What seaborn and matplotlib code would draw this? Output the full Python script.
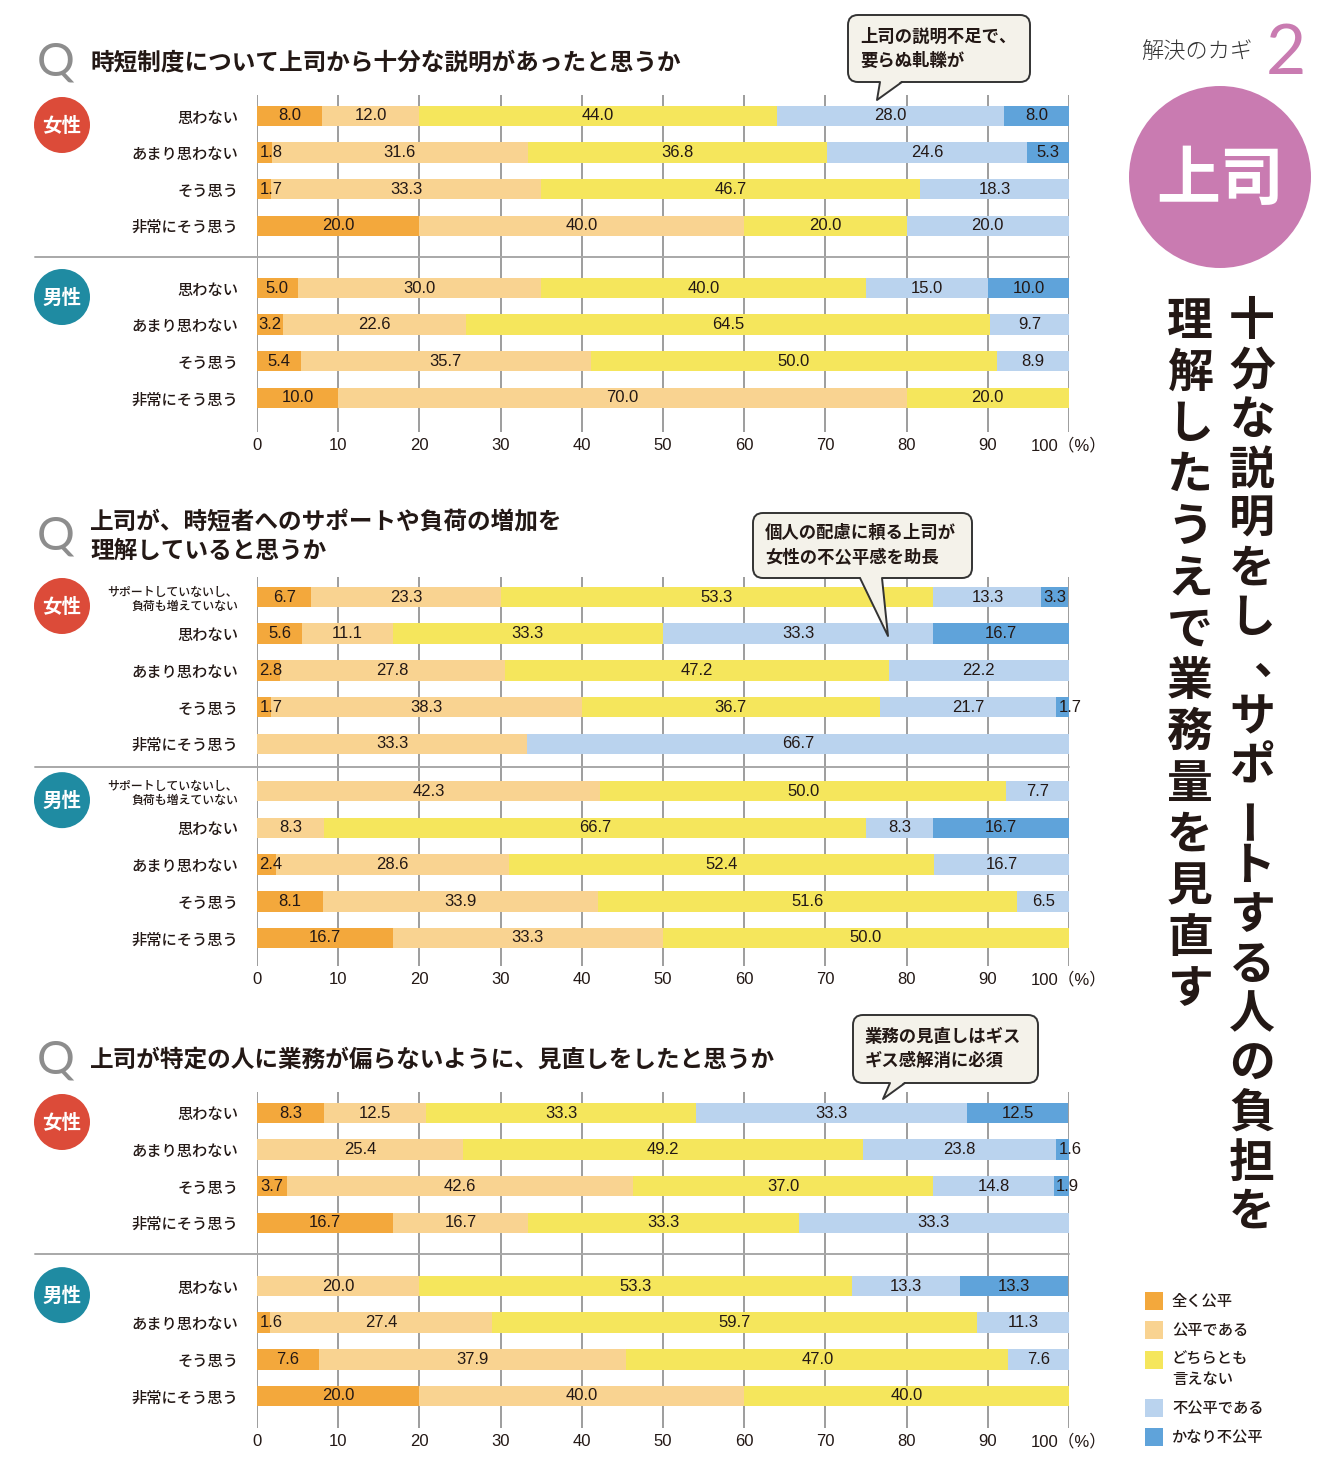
import numpy as np
import pandas as pd
import matplotlib.pyplot as plt
import seaborn as sns
from matplotlib.patches import Circle, FancyBboxPatch, Polygon, Rectangle

W, H = 1340, 1482

# answer categories and colours
answers = ["全く公平", "公平である", "どちらとも言えない", "不公平である", "かなり不公平"]
legend_labels = ["全く公平", "公平である", "どちらとも\n言えない", "不公平である", "かなり不公平"]
colors = ["#F3A83C", "#F9D391", "#F5E65C", "#BAD3EE", "#5FA3DA"]

rows4 = ["思わない", "あまり思わない", "そう思う", "非常にそう思う"]
rows5 = ["サポートしていないし、\n負荷も増えていない"] + rows4

# Q1 時短制度について上司から十分な説明があったと思うか
q1_title = "時短制度について上司から十分な説明があったと思うか"
q1_women = [[8.0, 12.0, 44.0, 28.0, 8.0],
            [1.8, 31.6, 36.8, 24.6, 5.3],
            [1.7, 33.3, 46.7, 18.3, 0],
            [20.0, 40.0, 20.0, 20.0, 0]]
q1_men = [[5.0, 30.0, 40.0, 15.0, 10.0],
          [3.2, 22.6, 64.5, 9.7, 0],
          [5.4, 35.7, 50.0, 8.9, 0],
          [10.0, 70.0, 20.0, 0, 0]]

# Q2 上司が、時短者へのサポートや負荷の増加を理解していると思うか
q2_title = "上司が、時短者へのサポートや負荷の増加を\n理解していると思うか"
q2_women = [[6.7, 23.3, 53.3, 13.3, 3.3],
            [5.6, 11.1, 33.3, 33.3, 16.7],
            [2.8, 27.8, 47.2, 22.2, 0],
            [1.7, 38.3, 36.7, 21.7, 1.7],
            [0, 33.3, 0, 66.7, 0]]
q2_men = [[0, 42.3, 50.0, 7.7, 0],
          [0, 8.3, 66.7, 8.3, 16.7],
          [2.4, 28.6, 52.4, 16.7, 0],
          [8.1, 33.9, 51.6, 6.5, 0],
          [16.7, 33.3, 50.0, 0, 0]]

# Q3 上司が特定の人に業務が偏らないように、見直しをしたと思うか
q3_title = "上司が特定の人に業務が偏らないように、見直しをしたと思うか"
q3_women = [[8.3, 12.5, 33.3, 33.3, 12.5],
            [0, 25.4, 49.2, 23.8, 1.6],
            [3.7, 42.6, 37.0, 14.8, 1.9],
            [16.7, 16.7, 33.3, 33.3, 0]]
q3_men = [[0, 20.0, 53.3, 13.3, 13.3],
          [1.6, 27.4, 59.7, 11.3, 0],
          [7.6, 37.9, 47.0, 7.6, 0],
          [20.0, 40.0, 40.0, 0, 0]]

callout1 = "上司の説明不足で、\n要らぬ軋轢が"
callout2 = "個人の配慮に頼る上司が\n女性の不公平感を助長"
callout3 = "業務の見直しはギス\nギス感解消に必須"
headline_right = "十分な説明をし、サポートする人の負担を"
headline_left = "理解したうえで業務量を見直す"

sns.set_style("white")
plt.rcParams["font.family"] = ["Noto Sans CJK JP", "DejaVu Sans"]

INK = "#231815"
GRID = "#9d9d9d"
NUM_FONT = ["Liberation Sans Narrow", "Liberation Sans", "DejaVu Sans"]
TICK_FONT = ["Liberation Sans", "Noto Sans CJK JP"]

fig = plt.figure(figsize=(W / 100, H / 100), dpi=100)


def px_axes(x0, y0, x1, y1, **kw):
    return fig.add_axes([x0 / W, 1 - y1 / H, (x1 - x0) / W, (y1 - y0) / H], **kw)


def draw_panel(rows, women, men, top, bottom, row0, pitch, gap):
    ax = px_axes(257, top, 1069, bottom)
    n = len(rows)
    pos = list(range(n)) + [n - 1 + gap + i for i in range(n)]
    recs = []
    for p, vals in zip(pos, women + men):
        cum = np.cumsum(vals)
        for k, cat in enumerate(answers):
            recs.append(dict(pos=p, answer=cat, cum=min(cum[k], 100.0),
                             val=vals[k], left=cum[k] - vals[k]))
    df = pd.DataFrame(recs)
    sns.barplot(data=df, x="cum", y="pos", hue="answer", hue_order=answers[::-1],
                palette=dict(zip(answers, colors)), orient="y", native_scale=True,
                dodge=False, width=0.56, errorbar=None, legend=False,
                saturation=1, linewidth=0, ax=ax)
    for r in df.itertuples():
        if r.val <= 0:
            continue
        txt = f"{r.val:.1f}"
        if r.val < 3:
            ax.text(r.left + 0.3, r.pos, txt, ha="left", va="center", fontsize=12,
                    family=NUM_FONT, color=INK, clip_on=False)
        else:
            ax.text(r.left + r.val / 2, r.pos, txt, ha="center", va="center",
                    fontsize=12, family=NUM_FONT, color=INK)
    ax.set_xlim(0, 100)
    ax.set_ylim((bottom - row0) / pitch, (top - row0) / pitch)
    ax.set_xticks(range(0, 101, 10))
    ax.set_xticklabels([str(v) for v in range(0, 100, 10)] + ["100（%）"],
                       family=TICK_FONT, fontsize=12, color=INK)
    ax.set_yticks(pos)
    ax.set_yticklabels(rows * 2, fontsize=11, weight="medium", color=INK)
    for lab in ax.get_yticklabels():
        if "\n" in lab.get_text():
            lab.set_fontsize(8.6)
            lab.set_linespacing(1.15)
    ax.tick_params(axis="y", length=0, pad=13.5)
    ax.tick_params(axis="x", length=0, pad=4)
    ax.grid(axis="x", color=GRID, linewidth=1.4)
    ax.grid(axis="y", visible=False)
    ax.set_axisbelow(True)
    for s in ax.spines.values():
        s.set_visible(False)
    ax.set_xlabel("")
    ax.set_ylabel("")
    ax.patch.set_alpha(0)
    # pixel positions of first rows for the overlay
    women_y = row0
    men_y = row0 + pos[n] * pitch
    sep_y = row0 + (pos[n - 1] + pos[n]) / 2 * pitch
    return women_y, men_y, sep_y


panels = [
    dict(title=q1_title, rows=rows4, women=q1_women, men=q1_men,
         top=95, bottom=432, row0=116, pitch=36.6, gap=1.7, ty=62),
    dict(title=q2_title, rows=rows5, women=q2_women, men=q2_men,
         top=577, bottom=966, row0=597, pitch=36.7, gap=1.29, ty=536),
    dict(title=q3_title, rows=rows4, women=q3_women, men=q3_men,
         top=1092, bottom=1428, row0=1113, pitch=36.6, gap=1.73, ty=1060),
]

geo = []
for p in panels:
    geo.append(draw_panel(p["rows"], p["women"], p["men"], p["top"], p["bottom"],
                          p["row0"], p["pitch"], p["gap"]))

# overlay in pixel coordinates
ov = fig.add_axes([0, 0, 1, 1], zorder=10)
ov.set_xlim(0, W)
ov.set_ylim(H, 0)
ov.axis("off")

for p, (wy, my, sy) in zip(panels, geo):
    ov.text(37, p["ty"] + 1, "Q", fontsize=34, color="#8d8d8d",
            family=["Lato", "DejaVu Sans"], ha="left", va="center")
    ov.text(90, p["ty"], p["title"], fontsize=17, weight="bold", color=INK,
            ha="left", va="center", linespacing=1.25)
    ov.plot([35, 1069], [sy, sy], color="#a8a8a8", lw=1.4)
    for cy, lab, col in [(wy + 9, "女性", "#DC4B39"), (my + 9, "男性", "#1F8BA2")]:
        ov.add_patch(Circle((62, cy), 28, color=col, lw=0))
        ov.text(62, cy + 1, lab, fontsize=14, weight="bold", color="white",
                ha="center", va="center")


def callout(x0, y0, x1, y1, b0, b1, tip, text):
    fill = "#F4F2EA"
    ov.add_patch(FancyBboxPatch((x0, y0), x1 - x0, y1 - y0,
                                boxstyle="round,pad=0,rounding_size=10",
                                facecolor=fill, edgecolor="#333333", lw=1.4, zorder=3))
    ov.add_patch(Polygon([(b0, y1 - 1.5), tip, (b1, y1 - 1.5)], closed=True,
                         facecolor=fill, edgecolor="none", zorder=4))
    ov.plot([b0, tip[0], b1], [y1, tip[1], y1], color="#333333", lw=1.4, zorder=5)
    ov.text(x0 + 12, (y0 + y1) / 2, text, fontsize=12.5, weight="bold", color=INK,
            ha="left", va="center", linespacing=1.45, zorder=6)


callout(848, 15, 1030, 82, 880, 902, (877, 100), callout1)
callout(753, 513, 972, 578, 860, 882, (888, 636), callout2)
callout(853, 1015, 1038, 1083, 890, 905, (883, 1099), callout3)

# right side heading
ov.text(1141, 52, "解決のカギ", fontsize=16, weight="light", color="#333333",
        ha="left", va="center")
ov.text(1286, 54, "2", fontsize=50, color="#C97BB1", family=["Lato", "DejaVu Sans"],
        ha="center", va="center")
ov.add_patch(Circle((1220, 177), 91, color="#C97BB1", lw=0))
ov.text(1220, 180, "上司", fontsize=46, weight="bold", color="white",
        ha="center", va="center")


def vertical(text, x, y0, pitch):
    for i, ch in enumerate(text):
        y = y0 + i * pitch
        if ch == "ー":
            ov.text(x, y, ch, fontsize=33, weight="bold", color=INK, rotation=90,
                    ha="center", va="center", rotation_mode="anchor")
        elif ch == "、":
            ov.text(x + 24, y - 8, ch, fontsize=33, weight="bold", color=INK,
                    ha="center", va="center")
        else:
            ov.text(x, y, ch, fontsize=33, weight="bold", color=INK,
                    ha="center", va="center")


vertical(headline_right, 1252, 322, 49.5)
vertical(headline_left, 1190, 322, 51.4)

# legend
for yc, lab, col in zip([1301, 1330, 1369.5, 1408, 1437], legend_labels, colors):
    sq_y = yc if "\n" not in lab else 1360
    ov.add_patch(Rectangle((1145, sq_y - 9), 18, 18, color=col, lw=0))
    ov.text(1172, yc, lab, fontsize=11, weight="medium", color=INK,
            ha="left", va="center", linespacing=1.3)

fig.savefig("out.png", dpi=100)
